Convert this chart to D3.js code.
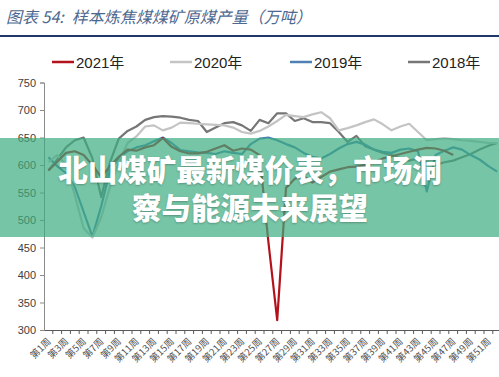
<!DOCTYPE html>
<html>
<head>
<meta charset="utf-8">
<script src="https://cdn.jsdelivr.net/npm/d3@7.9.0/dist/d3.min.js"></script>
<style>
  html, body { margin: 0; padding: 0; background: #fff; }
  svg { display: block; font-family: "Liberation Sans", "Noto Sans CJK SC", sans-serif; }
</style>
</head>
<body>
<div id="chart"></div>
<script>
// weekly raw coal output of sample coking coal mines (10k t)
const weeks = d3.range(1, 53);
const weekLabels = ["第1周","第3周","第5周","第7周","第9周","第11周","第13周","第15周","第17周","第19周",
  "第21周","第23周","第25周","第27周","第29周","第31周","第33周","第35周","第37周","第39周",
  "第41周","第43周","第45周","第47周","第49周","第51周"];
const yTicks = [300, 350, 400, 450, 500, 550, 600, 650, 700, 750];

const y2021 = [590, 606, 622, 625, 618, 600, 578, 598, 615, 628, 626, 632, 636, 649, 633, 625,
  621, 621, 624, 630, 636, 626, 630, 628, 618, 460, 318, 558, 575, 580, 568, 578, 588, 592,
  596, 597, 600, 605, 612, 616, 620, 624, 628, 631, 630, 626, 618];
const y2020 = [605, 618, 600, 545, 485, 468, 505, 560, 605, 640, 652, 670, 672, 663, 668, 677,
  676, 675, 674, 673, 672, 668, 660, 657, 662, 670, 680, 691, 689, 687, 692, 696, 685, 663,
  667, 672, 678, 683, 674, 663, 670, 675, 660, 645, 647, 649, 647, 645, 644, 642, 640, 640];
const y2019 = [614, 598, 585, 560, 515, 470, 525, 590, 612, 625, 632, 636, 643, 650, 640, 627,
  625, 623, 622, 620, 625, 622, 620, 638, 648, 650, 645, 638, 632, 622, 615, 612, 620, 630,
  638, 642, 637, 628, 624, 622, 628, 630, 625, 552, 618, 626, 632, 628, 618, 610, 598, 588];
const y2018 = [590, 610, 632, 645, 650, 612, 542, 605, 648, 662, 670, 682, 687, 689, 688, 686,
  682, 680, 660, 668, 676, 678, 672, 662, 682, 676, 694, 694, 680, 685, 678, 678, 676, 660,
  642, 653, 634, 628, 622, 618, 612, 608, 612, 605, 600, 605, 608, 614, 620, 628, 635, 640];

const seriesNames = ["2021年", "2020年", "2019年", "2018年"];
const seriesValues = [y2021, y2020, y2019, y2018];
const colors = ["#b3121b", "#c4c4c4", "#4f81b4", "#767676"];

const W = 499, H = 377;
const svg = d3.select("#chart").append("svg")
  .attr("width", W)
  .attr("height", H);

// title
const title = svg.append("text")
  .attr("x", 6)
  .attr("y", 23)
  .attr("fill", "#4d6890")
  .attr("font-size", "16px")
  .attr("font-style", "italic")
  .attr("font-family", "'Noto Sans CJK SC', sans-serif");
title.append("tspan").text("图表 54:");
title.append("tspan").attr("dx", 8).text("样本炼焦煤煤矿原煤产量（万吨）");

svg.append("line")
  .attr("x1", 0).attr("x2", W)
  .attr("y1", 36).attr("y2", 36)
  .attr("stroke", "#1f3a6a")
  .attr("stroke-width", 2);

// scales
const x = d3.scaleBand()
  .domain(weeks)
  .range([44, 44 + 52 * 8.8])
  .padding(0);

const y = d3.scaleLinear()
  .domain([300, 750])
  .range([330, 82.5]);

// y axis
const yAxis = svg.append("g")
  .attr("transform", "translate(44,0)")
  .call(d3.axisLeft(y).tickValues(yTicks).tickSize(4).tickPadding(4));
yAxis.select(".domain").attr("stroke", "#8c8c8c");
yAxis.selectAll(".tick line").attr("stroke", "#8c8c8c");
yAxis.selectAll("text")
  .attr("font-size", "11px")
  .attr("fill", "#404040")
  .attr("font-family", "'Liberation Sans', sans-serif");

// x axis
const xAxis = svg.append("g")
  .attr("transform", "translate(0,330)")
  .call(d3.axisBottom(x)
    .tickSize(0)
    .tickValues(weeks.filter(w => w % 2 === 1))
    .tickFormat(w => weekLabels[(w - 1) / 2]));
xAxis.select(".domain").attr("stroke", "#595959");
xAxis.selectAll("text")
  .attr("font-size", "9.5px")
  .attr("fill", "#505050")
  .attr("font-family", "'Noto Sans CJK SC', sans-serif")
  .attr("text-anchor", "end")
  .attr("dy", null)
  .attr("y", 0)
  .attr("transform", "translate(3,12) rotate(-45)");

// category boundary ticks
xAxis.selectAll(".bound")
  .data(weeks)
  .enter().append("line")
  .attr("class", "bound")
  .attr("x1", d => x(d) + x.bandwidth())
  .attr("x2", d => x(d) + x.bandwidth())
  .attr("y1", 0)
  .attr("y2", 4)
  .attr("stroke", "#595959");

// lines (2018 first so 2021 ends on top)
const line = d3.line()
  .x((d, i) => x(weeks[i]) + x.bandwidth() / 2)
  .y(d => y(d));

for (let k = seriesValues.length - 1; k >= 0; k--) {
  svg.append("path")
    .datum(seriesValues[k])
    .attr("fill", "none")
    .attr("stroke", colors[k])
    .attr("stroke-width", 2.2)
    .attr("stroke-linejoin", "round")
    .attr("d", line);
}

// legend
const legendX = [52, 170, 290, 408];
const legend = svg.append("g");
seriesNames.forEach((name, i) => {
  legend.append("line")
    .attr("x1", legendX[i]).attr("x2", legendX[i] + 22)
    .attr("y1", 62).attr("y2", 62)
    .attr("stroke", colors[i])
    .attr("stroke-width", 2.5);
  legend.append("text")
    .attr("x", legendX[i] + 24)
    .attr("y", 67.5)
    .attr("font-size", "15px")
    .attr("fill", "#222")
    .text(name);
});

// green banner over the chart
svg.append("rect")
  .attr("x", 0).attr("y", 138)
  .attr("width", W).attr("height", 99)
  .attr("fill", "rgba(60,172,128,0.7)");

const banner = ["北山煤矿最新煤价表，市场洞", "察与能源未来展望"];
svg.selectAll(".banner")
  .data(banner)
  .enter().append("text")
  .attr("class", "banner")
  .attr("x", 250)
  .attr("y", (d, i) => 181 + i * 38)
  .attr("text-anchor", "middle")
  .attr("font-size", "29.5px")
  .attr("font-weight", 900)
  .attr("font-family", "'Noto Sans CJK SC', sans-serif")
  .attr("fill", "#fff")
  .style("text-shadow", "0 1px 2px rgba(0,0,0,0.25)")
  .text(d => d);
</script>
</body>
</html>
